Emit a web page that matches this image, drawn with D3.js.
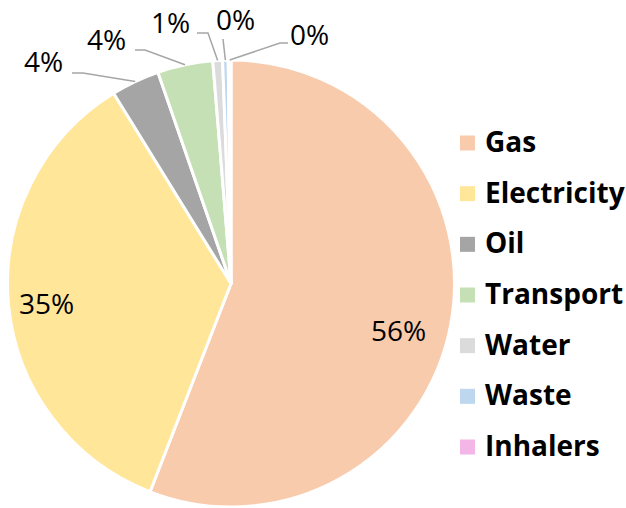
<!DOCTYPE html>
<html>
<head>
<meta charset="utf-8">
<script src="https://cdn.jsdelivr.net/npm/d3@7"></script>
<style>
  html, body { margin: 0; padding: 0; background: #fff; }
  svg { display: block; }
</style>
</head>
<body>
<svg id="chart" width="626" height="508"></svg>
<script>
// ---- data ----
const categories = ["Gas", "Electricity", "Oil", "Transport", "Water", "Waste", "Inhalers"];
const values = [55.9, 35.3, 3.5, 4.0, 0.7, 0.4, 0.2];
const colors = ["#F8CBAD", "#FFE699", "#A5A5A5", "#C5E0B4", "#DBDBDB", "#BDD7EE", "#F4B6E6"];

// ---- layout (label placements, not data) ----
const cx = 231, cy = 283.5, R = 223.5;
const labelLayout = {
  "Gas":        { x: 371, y: 341 },
  "Electricity":{ x: 19,  y: 314 },
  "Oil":        { x: 24,  y: 72,  leader: [[72, 73], [83, 73]] },
  "Transport":  { x: 87,  y: 50,  leader: [[135, 50], [145, 50]] },
  "Water":      { x: 151, y: 33,  leader: [[197, 33], [208, 33]] },
  "Waste":      { x: 216, y: 30,  leader: [[223, 39]] },
  "Inhalers":   { x: 290, y: 45,  leader: [[288, 43], [280, 43]] }
};

const data = categories.map((c, i) => ({ name: c, value: values[i], color: colors[i] }));
const total = d3.sum(values);

const svg = d3.select("#chart");
const g = svg.append("g").attr("transform", `translate(${cx},${cy})`);

const pie = d3.pie().value(d => d.value).sort(null);
const arcs = pie(data);
const arc = d3.arc().innerRadius(0).outerRadius(R);

g.selectAll("path.slice")
  .data(arcs)
  .enter().append("path")
  .attr("class", "slice")
  .attr("d", arc)
  .attr("fill", d => d.data.color)
  .attr("stroke", "#fff")
  .attr("stroke-width", 3)
  .attr("stroke-linejoin", "round");

// leader lines
const line = d3.line();
arcs.forEach(a => {
  const L = labelLayout[a.data.name];
  if (!L.leader) return;
  const mid = (a.startAngle + a.endAngle) / 2;
  const p = [cx + R * Math.sin(mid), cy - R * Math.cos(mid)];
  svg.append("path")
    .attr("d", line(L.leader.concat([p])))
    .attr("fill", "none")
    .attr("stroke", "#A6A6A6")
    .attr("stroke-width", 1.5);
});

// percentage labels
arcs.forEach(a => {
  const L = labelLayout[a.data.name];
  svg.append("text")
    .attr("x", L.x)
    .attr("y", L.y)
    .attr("font-family", "'Open Sans', sans-serif")
    .attr("font-size", 28)
    .attr("fill", "#000")
    .text(Math.round(a.data.value / total * 100) + "%");
});

// legend
const legend = svg.append("g").attr("transform", "translate(460,0)");
const rowY = d3.scalePoint().domain(categories).range([143, 447]);
categories.forEach((c, i) => {
  const y = rowY(c);
  legend.append("rect")
    .attr("x", 0).attr("y", y - 7.5)
    .attr("width", 15).attr("height", 15)
    .attr("fill", colors[i]);
  legend.append("text")
    .attr("x", 25).attr("y", y + 9)
    .attr("font-family", "'Open Sans', sans-serif")
    .attr("font-weight", "bold")
    .attr("font-size", 28)
    .attr("fill", "#000")
    .text(c);
});
</script>
</body>
</html>
